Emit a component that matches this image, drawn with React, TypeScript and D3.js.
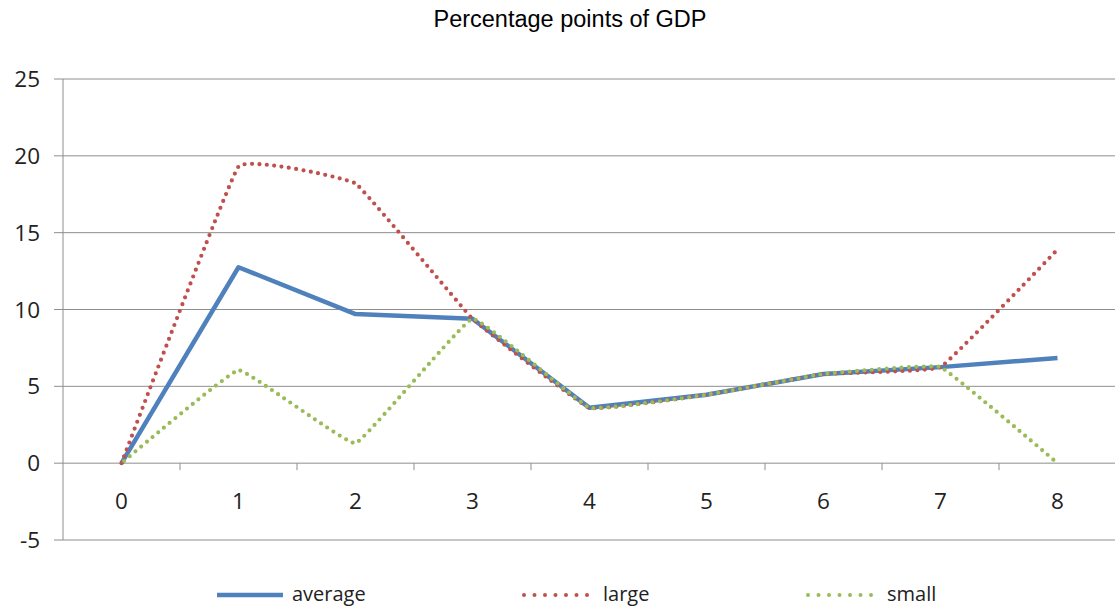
import React from 'react';
import * as d3 from 'd3';

const categories = ['0', '1', '2', '3', '4', '5', '6', '7', '8'];
const average = [0, 12.75, 9.7, 9.4, 3.6, 4.45, 5.8, 6.25, 6.85];
const large = [0, 19.3, 18.2, 9.4, 3.6, 4.45, 5.8, 6.25, 13.9];
const small = [0, 6.05, 1.3, 9.4, 3.6, 4.45, 5.8, 6.25, 0];
const yTicks = [-5, 0, 5, 10, 15, 20, 25];

const W = 1115;
const H = 609;
const plot = { left: 63, right: 1116, top: 79, bottom: 540 };

const BLUE = '#4F81BD';
const RED = '#C0504D';
const GREEN = '#9BBB59';
const GRID = '#8e8e8e';
const AXIS_FONT = '"Open Sans", sans-serif';

export default function App() {
  const x = d3
    .scaleBand<string>()
    .domain(categories)
    .range([plot.left, plot.right]);
  const y = d3.scaleLinear().domain([-5, 25]).range([plot.bottom, plot.top]);
  const cx = (c: string) => (x(c) as number) + x.bandwidth() / 2;

  const straight = d3
    .line<number>()
    .x((_, i) => cx(categories[i]))
    .y((d) => y(d));
  // excel "smoothed line" is only lightly rounded
  const smooth = d3
    .line<number>()
    .x((_, i) => cx(categories[i]))
    .y((d) => y(d))
    .curve(d3.curveCardinal.tension(0.78));

  const legend = [
    { label: 'average', color: BLUE, x0: 217, x1: 283, tx: 292, dotted: false },
    { label: 'large', color: RED, x0: 524, x1: 592, tx: 603, dotted: true },
    { label: 'small', color: GREEN, x0: 808, x1: 876, tx: 887, dotted: true },
  ];

  return (
    <svg width={W} height={H} style={{ position: 'absolute', left: 0, top: 0 }}>
      <rect width={W} height={H} fill="#fff" />
      <text
        x={570}
        y={27}
        textAnchor="middle"
        fontFamily='"Liberation Sans", Arial, sans-serif'
        fontSize={23.5}
        fill="#000"
      >
        Percentage points of GDP
      </text>

      {yTicks.map((t) => (
        <g key={t}>
          <line x1={54} x2={plot.right} y1={y(t)} y2={y(t)} stroke={GRID} strokeWidth={1} />
          <text
            x={40}
            y={y(t)}
            dy="0.36em"
            textAnchor="end"
            fontFamily={AXIS_FONT}
            fontSize={22.5}
            fill="#222"
          >
            {t}
          </text>
        </g>
      ))}
      <line x1={plot.left} x2={plot.left} y1={plot.top} y2={plot.bottom} stroke={GRID} strokeWidth={1} />

      {categories.map((c, i) => (
        <g key={c}>
          {i > 0 && (
            <line
              x1={x(c) as number}
              x2={x(c) as number}
              y1={y(0)}
              y2={y(0) + 7}
              stroke={GRID}
              strokeWidth={1}
            />
          )}
          <text
            x={cx(c)}
            y={509}
            textAnchor="middle"
            fontFamily={AXIS_FONT}
            fontSize={22.5}
            fill="#222"
          >
            {c}
          </text>
        </g>
      ))}

      <path d={straight(average) as string} fill="none" stroke={BLUE} strokeWidth={4.5} strokeLinejoin="round" />
      <path
        d={smooth(large) as string}
        fill="none"
        stroke={RED}
        strokeWidth={4.2}
        strokeLinecap="round"
        strokeDasharray="0 7.4"
      />
      <path
        d={smooth(small) as string}
        fill="none"
        stroke={GREEN}
        strokeWidth={4.2}
        strokeLinecap="round"
        strokeDasharray="0 7.4"
        strokeDashoffset={3.7}
      />

      {legend.map((l) => (
        <g key={l.label}>
          <line
            x1={l.x0}
            x2={l.x1}
            y1={595}
            y2={595}
            stroke={l.color}
            strokeWidth={l.dotted ? 4 : 4.5}
            strokeLinecap={l.dotted ? 'round' : 'butt'}
            strokeDasharray={l.dotted ? '0 10.5' : undefined}
          />
          <text x={l.tx} y={601} fontFamily={AXIS_FONT} fontSize={20} fill="#222">
            {l.label}
          </text>
        </g>
      ))}
    </svg>
  );
}
